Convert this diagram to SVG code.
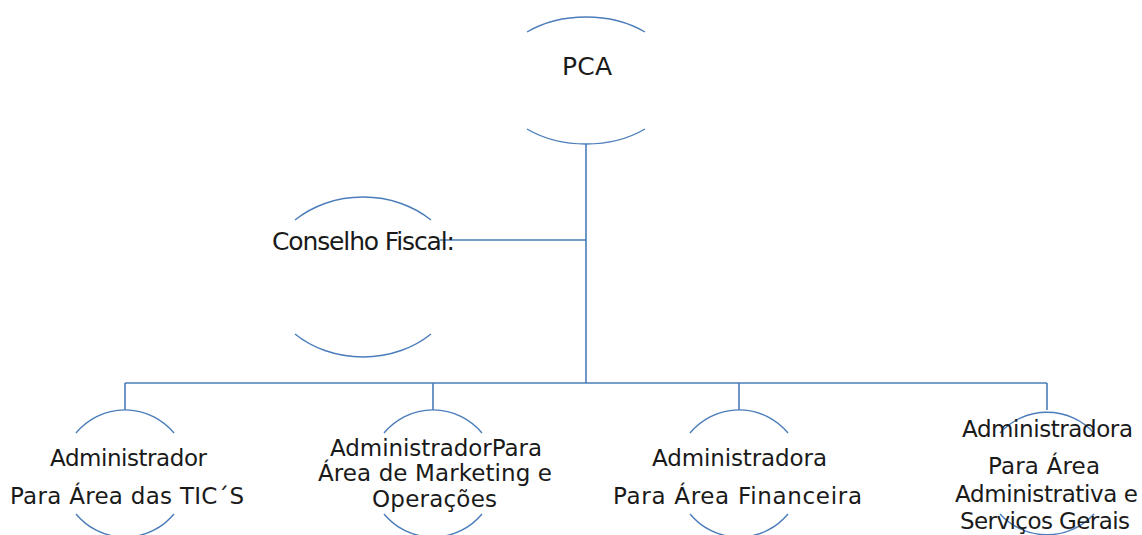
<svg xmlns="http://www.w3.org/2000/svg" width="1142" height="535" viewBox="0 0 1142 535">
<style>
.arc{fill:none;stroke:#4a7dba;stroke-width:1.4}
.con{fill:none;stroke:#4a7dba;stroke-width:1.6}
.t{font-family:"DejaVu Sans","Liberation Sans",sans-serif;fill:#1a1a1a;text-anchor:middle}
.big{font-size:25px}
.sm{font-size:23px}
</style>
<rect width="1142" height="535" fill="#ffffff"/>
<g id="connectors">
<path class="con" d="M586,144 V383"/>
<path class="con" d="M440,240 H586"/>
<path class="con" d="M125,383 H1047"/>
<path class="con" d="M125,383 V410 M433,383 V410 M739,383 V410 M1047,383 V410"/>
</g>
<g id="pca">
<path class="arc" d="M527,32 A91.4,63.5 0 0 1 645,32"/>
<path class="arc" d="M527,129 A91.4,63.5 0 0 0 645,129"/>
<text class="t big" x="587" y="75" textLength="50">PCA</text>
</g>
<g id="conselho">
<path class="arc" d="M295,220 A97,80 0 0 1 431,220"/>
<path class="arc" d="M295,334 A97,80 0 0 0 431,334"/>
<text class="t big" x="363.5" y="250" textLength="183">Conselho Fiscal:</text>
</g>
<g id="tics">
<path class="arc" d="M76,433 A63.5,63.5 0 0 1 174,433"/>
<path class="arc" d="M76,514 A63.5,63.5 0 0 0 174,514"/>
<text class="t sm" x="128.5" y="466" textLength="157">Administrador</text>
<text class="t sm" x="127" y="504" textLength="234">Para Área das TIC´S</text>
</g>
<g id="marketing">
<path class="arc" d="M384,433 A63.5,63.5 0 0 1 482,433"/>
<path class="arc" d="M384,514 A63.5,63.5 0 0 0 482,514"/>
<text class="t sm" x="436" y="456" textLength="212">AdministradorPara</text>
<text class="t sm" x="435" y="481" textLength="234">Área de Marketing e</text>
<text class="t sm" x="434.5" y="507" textLength="125">Operações</text>
</g>
<g id="financeira">
<path class="arc" d="M690,433 A63.5,63.5 0 0 1 788,433"/>
<path class="arc" d="M690,514 A63.5,63.5 0 0 0 788,514"/>
<text class="t sm" x="739.5" y="466" textLength="175">Administradora</text>
<text class="t sm" x="737.5" y="504" textLength="249">Para Área Financeira</text>
</g>
<g id="administrativa">
<path class="arc" d="M1000,433 A63.5,63.5 0 0 1 1094,433"/>
<path class="arc" d="M1000,514 A63.5,63.5 0 0 0 1094,514"/>
<text class="t sm" x="1047.5" y="437" textLength="171">Administradora</text>
<text class="t sm" x="1044" y="474" textLength="112">Para Área</text>
<text class="t sm" x="1046.5" y="502" textLength="183">Administrativa e</text>
<text class="t sm" x="1045" y="529" textLength="170">Serviços Gerais</text>
</g>
</svg>
